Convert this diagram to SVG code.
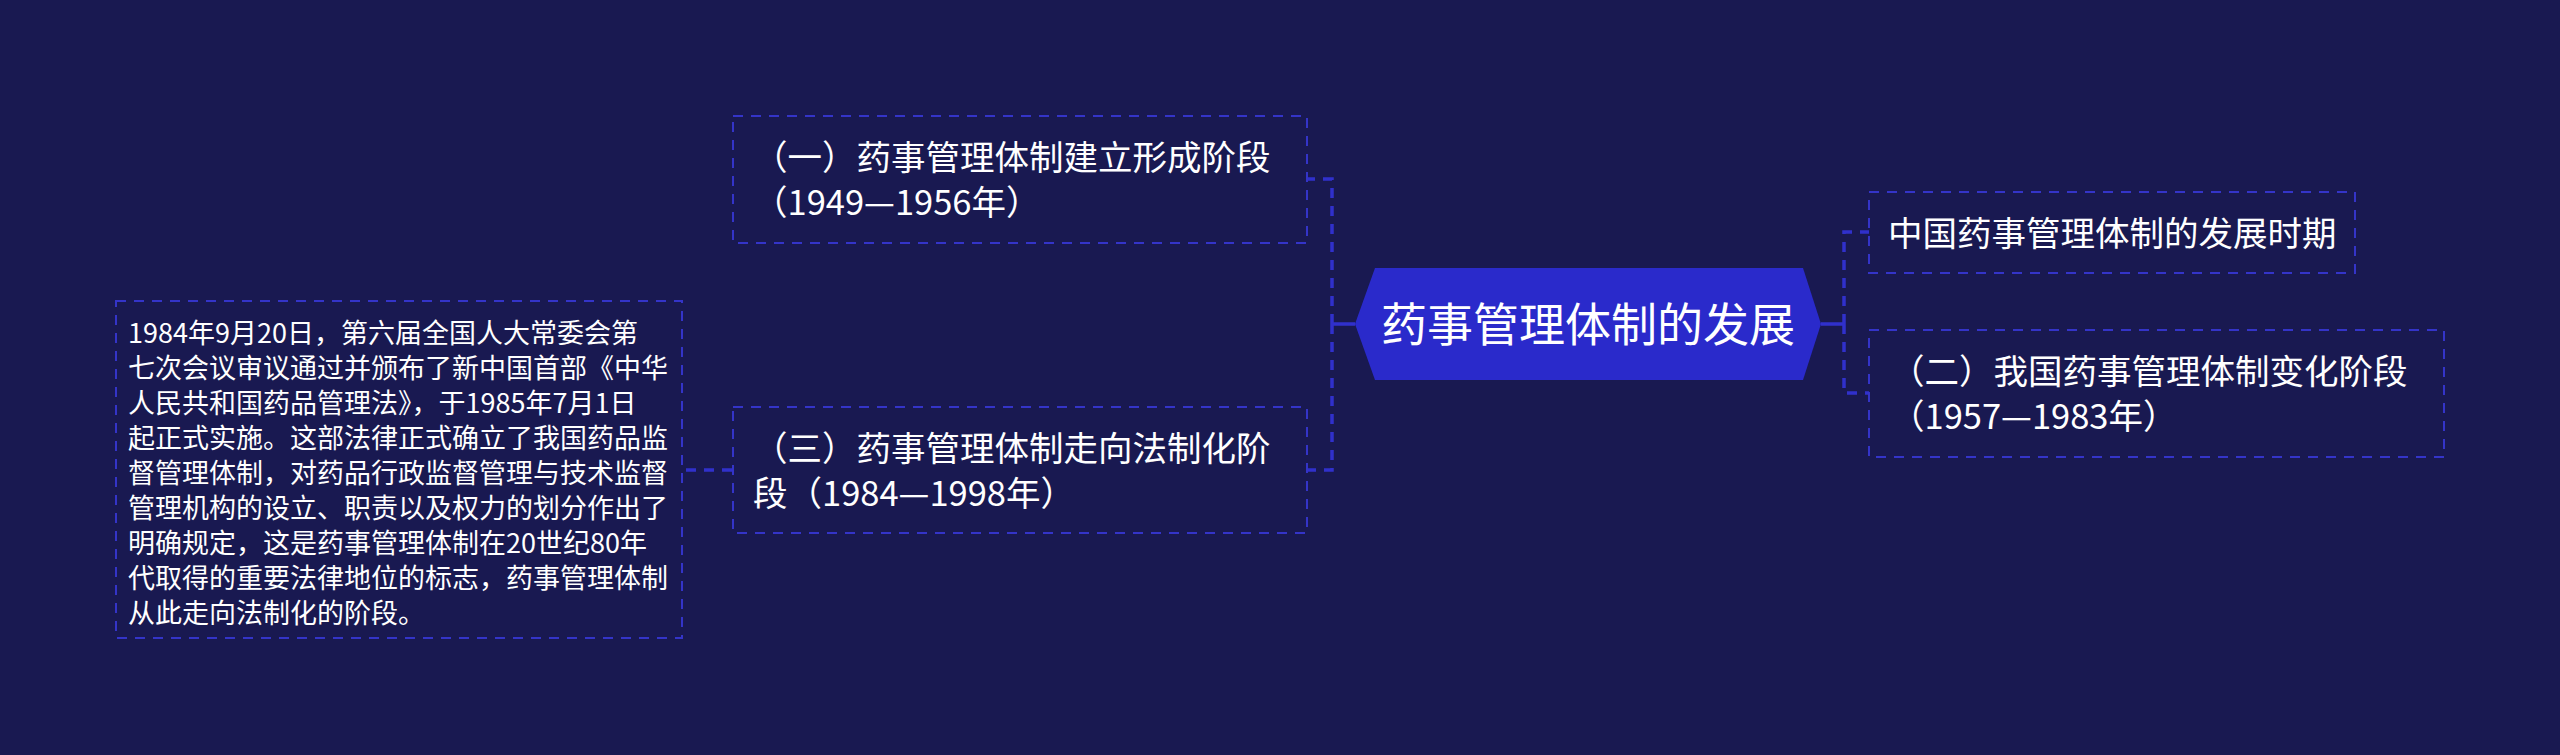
<svg xmlns="http://www.w3.org/2000/svg" width="2560" height="755" viewBox="0 0 2560 755">
<style>
.bg{fill:#191951}
.box{fill:none;stroke:#3434c8;stroke-width:2;stroke-dasharray:10 8}
.conn{fill:none;stroke:#3030cc;stroke-width:3.5;stroke-dasharray:10 8}
.solid{fill:none;stroke:#3030cc;stroke-width:3.5}
.t{font-family:"Noto Sans CJK SC","Noto Sans",sans-serif;fill:#ffffff}
.t34{font-size:34.5px}
.t27{font-size:27px}
</style>
<rect class="bg" x="0" y="0" width="2560" height="755"/>
<g id="connectors">
<path class="solid" d="M1355 324 H1332"/>
<path class="conn" d="M1332 324 V179 H1307"/>
<path class="conn" d="M1332 324 V470 H1307"/>
<path class="solid" d="M1821 324 H1844"/>
<path class="conn" d="M1844 324 V232 H1869"/>
<path class="conn" d="M1844 324 V393 H1869"/>
<path class="conn" d="M732 470 H682"/>
</g>
<g id="root">
<polygon points="1355,324 1375,268 1803,268 1821,324 1803,380 1375,380" fill="#2a2acb"/>
<text class="t" x="1588" y="341" font-size="46" text-anchor="middle">药事管理体制的发展</text>
</g>
<g id="node1">
<rect class="box" x="733" y="116" width="574" height="127"/>
<text class="t t34" x="753" y="170">（一）药事管理体制建立形成阶段</text>
<text class="t t34" x="753" y="215">（1949—1956年）</text>
</g>
<g id="node3">
<rect class="box" x="733" y="407" width="574" height="126"/>
<text class="t t34" x="753" y="461">（三）药事管理体制走向法制化阶</text>
<text class="t t34" x="753" y="506">段（1984—1998年）</text>
</g>
<g id="detail">
<rect class="box" x="116" y="301" width="566" height="337"/>
<text class="t t27">
<tspan x="128" y="343">1984年9月20日，第六届全国人大常委会第</tspan>
<tspan x="128" y="378">七次会议审议通过并颁布了新中国首部《中华</tspan>
<tspan x="128" y="413">人民共和国药品管理法》，于1985年7月1日</tspan>
<tspan x="128" y="448">起正式实施。这部法律正式确立了我国药品监</tspan>
<tspan x="128" y="483">督管理体制，对药品行政监督管理与技术监督</tspan>
<tspan x="128" y="518">管理机构的设立、职责以及权力的划分作出了</tspan>
<tspan x="128" y="553">明确规定，这是药事管理体制在20世纪80年</tspan>
<tspan x="128" y="588">代取得的重要法律地位的标志，药事管理体制</tspan>
<tspan x="128" y="623">从此走向法制化的阶段。</tspan>
</text>
</g>
<g id="right1">
<rect class="box" x="1869" y="192" width="486" height="81"/>
<text class="t t34" x="1888" y="246">中国药事管理体制的发展时期</text>
</g>
<g id="right2">
<rect class="box" x="1869" y="330" width="575" height="127"/>
<text class="t t34" x="1890" y="384">（二）我国药事管理体制变化阶段</text>
<text class="t t34" x="1890" y="429">（1957—1983年）</text>
</g>
</svg>
